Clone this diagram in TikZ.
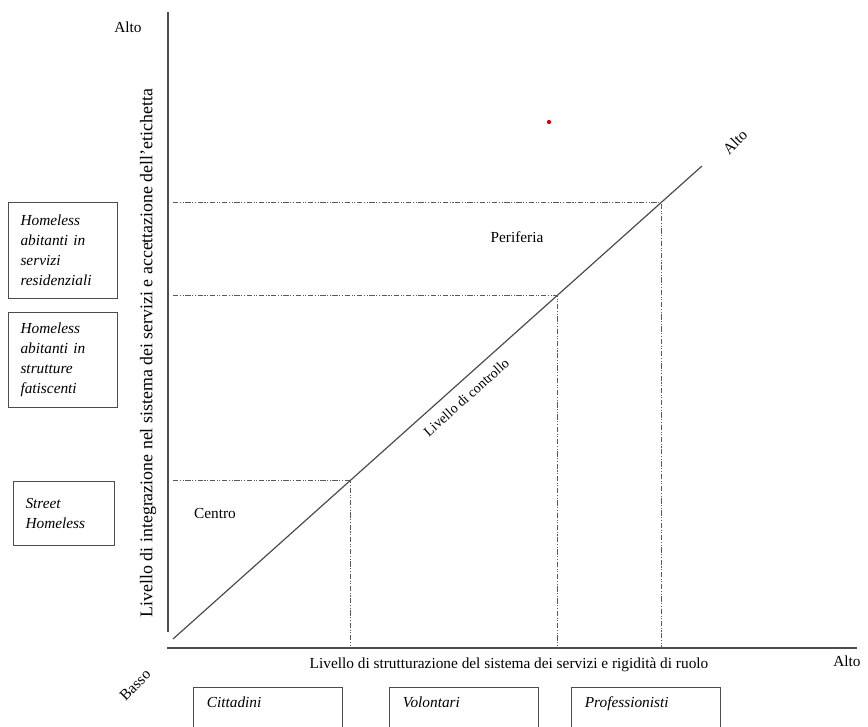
\documentclass[tikz,border=0pt]{standalone}
\usepackage{fontspec}
\setmainfont{Liberation Serif}
\begin{document}
\begin{tikzpicture}[x=0.75pt,y=-0.75pt,font=\fontsize{11.5pt}{14pt}\selectfont,
   axisline/.style={draw=black!70,line width=0.9pt},
   assist/.style={draw=black!65,line width=0.6pt,
      dash pattern=on 4pt off 1.2pt on 0.8pt off 1.2pt on 0.8pt off 1.2pt},
   leftbox/.style={draw=black!70,line width=0.8pt,anchor=north west,align=left,
      font=\fontsize{11.5pt}{15pt}\selectfont\itshape,inner xsep=9pt,inner ysep=0pt},
   bottombox/.style={draw=black!70,line width=0.8pt,anchor=north west,align=left,
      font=\fontsize{11.5pt}{14pt}\selectfont\itshape,inner xsep=10pt,inner ysep=7pt,
      text width=92pt,text depth=40pt}]
   \clip (0,0) rectangle (868,727);

   % assi
   \coordinate (ytop) at (168,12);
   \coordinate (ybot) at (168,632);
   \coordinate (xleft) at (167,648);
   \coordinate (xright) at (857,648);
   \draw[axisline] (ytop) -- (ybot);
   \draw[axisline] (xleft) -- (xright);
   \node (altoy) at (128,27) {Alto};
   \node (altox) at (847,661) {Alto};
   \node[rotate=45] (basso) at (135,685) {Basso};
   \node[rotate=90,font=\fontsize{13.4pt}{16pt}\selectfont] (ylab) at (148,353)
      {Livello di integrazione nel sistema dei servizi e accettazione dell’etichetta};
   \node (xlab) at (509,665)
      {Livello di strutturazione del sistema dei servizi e rigidità di ruolo};

   % livello di controllo
   \coordinate (dstart) at (173,639);
   \coordinate (dend) at (702,166);
   \draw[axisline] (dstart) -- (dend)
      coordinate[pos=0.3346] (c1) coordinate[pos=0.726] (c2) coordinate[pos=0.924] (c3)
      node[pos=0.535,sloped,below=4pt,text=black,font=\fontsize{10.5pt}{12pt}\selectfont]
         (controllo) {Livello di controllo};
   \node[rotate=45] (altod) at (735,142) {Alto};

   % linee ausiliarie
   \coordinate (ymark) at (173,0);
   \foreach \c in {c1,c2,c3}
      \draw[assist] (ymark |- \c) -- (\c) -- (\c |- xleft);

   \node (periferia) at (517,237) {Periferia};
   \node (centro) at (215,513) {Centro};
   \fill[red!85!black] (549,122) circle (1.6pt);

   % riquadri
   \node[leftbox,text width=64pt,minimum height=72pt] (residenziali) at (8,202)
      {Homeless\\abitanti in\\servizi\\residenziali};
   \node[leftbox,text width=64pt,minimum height=71pt] (fatiscenti) at (8,312)
      {Homeless\\abitanti in\\strutture\\fatiscenti};
   \node[leftbox,text width=58pt,minimum height=48pt] (street) at (13,481)
      {Street\\Homeless};
   \node[bottombox] (cittadini) at (193,687) {Cittadini};
   \node[bottombox] (volontari) at (389,687) {Volontari};
   \node[bottombox] (professionisti) at (571,687) {Professionisti};
\end{tikzpicture}
\end{document}
